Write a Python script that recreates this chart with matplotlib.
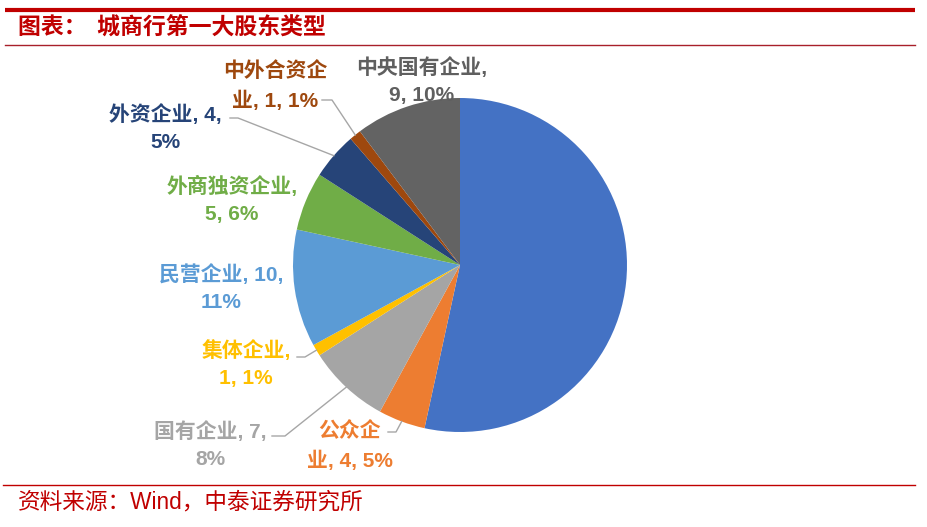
import matplotlib.pyplot as plt
import numpy as np

# data
categories = ['地方国有企业', '公众企业', '国有企业', '集体企业', '民营企业',
              '外商独资企业', '外资企业', '中外合资企业', '中央国有企业']
values = [47, 4, 7, 1, 10, 5, 4, 1, 9]
colors = ['#4472C4', '#ED7D31', '#A5A5A5', '#FFC000', '#5B9BD5',
          '#70AD47', '#264478', '#9E480E', '#636363']
label_colors = ['#4472C4', '#ED7D31', '#A5A5A5', '#FFC000', '#5B9BD5',
                '#70AD47', '#264478', '#9E480E', '#5F5F5F']

W, H = 928, 527
fig = plt.figure(figsize=(W / 100, H / 100), dpi=100)
ax = fig.add_axes([0, 0, 1, 1])

def py(y):
    # pixel row -> axis y (axis runs bottom-up)
    return H - y

cx, cy, r = 460, py(265), 167
wedges, _ = ax.pie(values, colors=colors, startangle=90, counterclock=False,
                   center=(cx, cy), radius=r,
                   wedgeprops=dict(linewidth=0))
ax.set_xlim(0, W)
ax.set_ylim(0, H)
ax.set_aspect('equal')
ax.axis('off')

total = sum(values)
fam = ['Liberation Sans', 'Noto Sans CJK SC', 'DejaVu Sans']

# label layout: (label text lines, centre x, centre y, leader points or None)
layout = {
    '公众企业': (('公众企', '业, {v}, {p}%'), 350, 446, [(388, 432), (396, 432)]),
    '国有企业': (('国有企业, {v},', '{p}%'), 210, 445, [(272, 436), (285, 436)]),
    '集体企业': (('集体企业,', '{v}, {p}%'), 246, 364, [(297, 357), (305, 357)]),
    '民营企业': (('民营企业, {v},', '{p}%'), 221, 288, None),
    '外商独资企业': (('外商独资企业,', '{v}, {p}%'), 232, 200, None),
    '外资企业': (('外资企业, {v},', '{p}%'), 165, 128, [(230, 118), (238, 118)]),
    '中外合资企业': (('中外合资企', '业, {v}, {p}%'), 275, 86, [(322, 100), (332, 100)]),
    '中央国有企业': (('中央国有企业,', '{v}, {p}%'), 422, 81, None),
}

for w, name, v, col in zip(wedges, categories, values, label_colors):
    if name not in layout:
        continue
    lines, lx, ly, leader = layout[name]
    pct = round(v / total * 100)
    txt = '\n'.join(s.format(v=v, p=pct) for s in lines)
    ax.text(lx, py(ly), txt, ha='center', va='center', color=col,
            fontsize=15, fontweight='bold', family=fam, linespacing=1.55)
    if leader:
        ang = np.deg2rad((w.theta1 + w.theta2) / 2)
        ex, ey = cx + r * np.cos(ang), cy + r * np.sin(ang)
        xs = [p[0] for p in leader] + [ex]
        ys = [py(p[1]) for p in leader] + [ey]
        ax.plot(xs, ys, color='#A6A6A6', lw=1)

# header / footer rules
ax.plot([5, 915], [py(9.5), py(9.5)], color='#C00000', lw=3, solid_capstyle='butt')
ax.plot([5, 915], [py(44.7), py(44.7)], color='#A8202A', lw=1)
ax.plot([3, 915], [py(485), py(485)], color='#C00000', lw=1)

ax.text(18, py(28), '图表：  城商行第一大股东类型', ha='left', va='center',
        color='#C00000', fontsize=16.5, fontweight='bold', style='italic',
        family=['Noto Sans CJK SC', 'DejaVu Sans'])
ax.text(18, py(502), '资料来源：Wind，中泰证券研究所', ha='left', va='center',
        color='#C00000', fontsize=16.3, family=fam)

fig.savefig('out.png', dpi=100)
